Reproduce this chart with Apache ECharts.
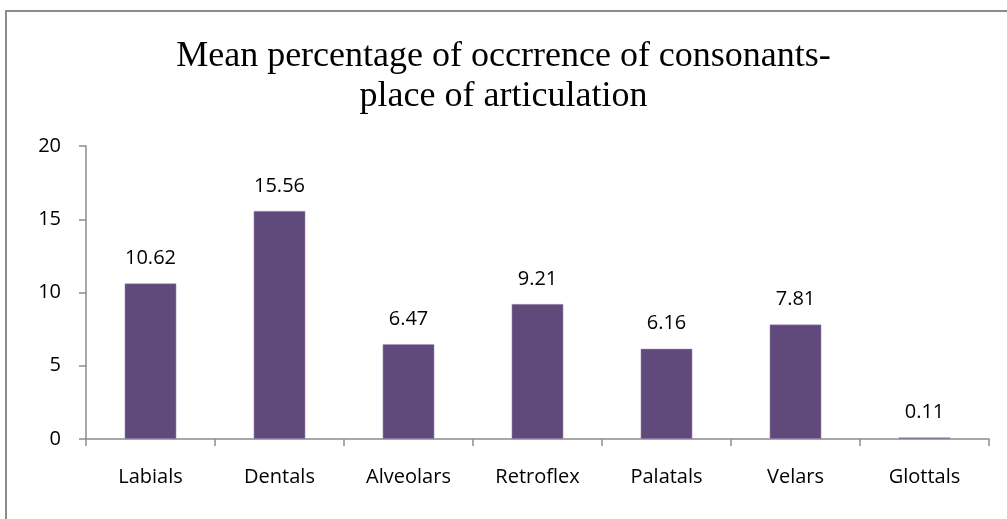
<!DOCTYPE html>
<html>
<head>
<meta charset="utf-8">
<script src="https://cdn.jsdelivr.net/npm/echarts@6/dist/echarts.min.js"></script>
<style>
  html, body { margin: 0; padding: 0; background: #fff; }
  #chart { width: 1007px; height: 519px; }
</style>
</head>
<body>
<div id="chart"></div>
<script>
const categories = ["Labials", "Dentals", "Alveolars", "Retroflex", "Palatals", "Velars", "Glottals"];
const meanPercent = [10.62, 15.56, 6.47, 9.21, 6.16, 7.81, 0.11];
const titleText = "Mean percentage of occrrence of consonants-\nplace of articulation";

const chart = echarts.init(document.getElementById("chart"));

chart.setOption({
  backgroundColor: "#ffffff",
  animation: false,
  title: {
    text: titleText,
    left: "center",
    top: 32,
    textStyle: {
      fontFamily: "Liberation Serif",
      fontWeight: "normal",
      fontSize: 36,
      lineHeight: 40,
      color: "#000000"
    }
  },
  // outer frame of the chart area
  graphic: [
    {
      type: "rect",
      silent: true,
      shape: { x: 6, y: 11, width: 1100, height: 600 },
      style: { fill: "none", stroke: "#8c8c8c", lineWidth: 2 }
    }
  ],
  grid: {
    left: 86,
    right: 18,
    top: 146,
    bottom: 80
  },
  xAxis: {
    type: "category",
    data: categories,
    axisLine: { lineStyle: { color: "#8c8c8c", width: 1.5 } },
    axisTick: { show: true, length: 7, lineStyle: { color: "#8c8c8c", width: 1.5 } },
    axisLabel: {
      margin: 28,
      color: "#000000",
      fontFamily: "Open Sans",
      fontSize: 20
    }
  },
  yAxis: {
    type: "value",
    min: 0,
    max: 20,
    interval: 5,
    splitLine: { show: false },
    axisLine: { show: true, lineStyle: { color: "#8c8c8c", width: 1.5 } },
    axisTick: { show: true, length: 7, lineStyle: { color: "#8c8c8c", width: 1.5 } },
    axisLabel: {
      margin: 25,
      color: "#000000",
      fontFamily: "Open Sans",
      fontSize: 20
    }
  },
  series: [
    {
      type: "bar",
      data: meanPercent,
      barWidth: "40%",
      itemStyle: {
        color: "#604a7b",
        borderColor: "#a898bd",
        borderWidth: 0.5
      },
      label: {
        show: true,
        position: "top",
        distance: 15,
        color: "#000000",
        fontFamily: "Open Sans",
        fontSize: 20
      }
    }
  ]
});
</script>
</body>
</html>
